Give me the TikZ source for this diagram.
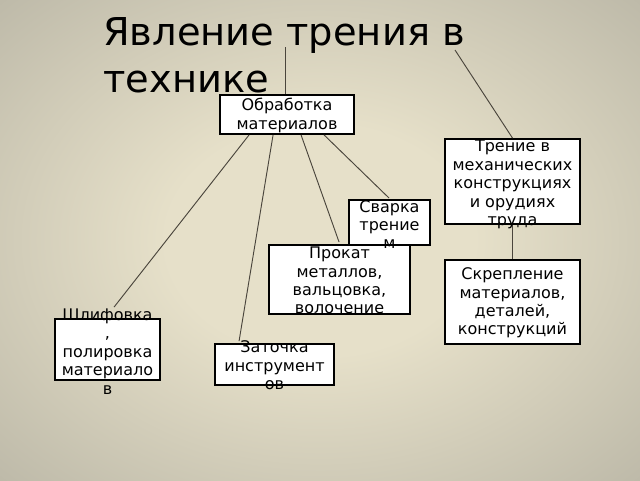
\documentclass[tikz,border=0pt]{standalone}
\usepackage{fontspec}
\setmainfont{DejaVu Sans}
\usetikzlibrary{calc}
\definecolor{bginner}{HTML}{E6E0C9}
\definecolor{bgouter}{HTML}{97958A}
\definecolor{linkcol}{HTML}{4A453C}
\pgfdeclareradialshading{bgshade}{\pgfpoint{0bp}{0bp}}{color(0bp)=(bginner); color(12bp)=(bginner); color(58bp)=(bgouter); color(72bp)=(bgouter)}
\tikzset{
  box/.style={draw=black, line width=1.4pt, fill=white, inner sep=0pt},
  boxtext/.style={font=\fontsize{12}{13.8}\selectfont, align=center, inner sep=0pt, text=black},
  link/.style={draw=linkcol, line width=0.7pt},
  titletext/.style={font=\fontsize{28.8}{35.2}\selectfont, align=left, inner sep=0pt, anchor=base west}
}
\begin{document}
\begin{tikzpicture}[x=0.75pt,y=-0.75pt]
\useasboundingbox (0,0) rectangle (640,480);
\shade[shading=bgshade] (0,0) rectangle (640,480);

\node[titletext] (title) at (103,92) {Явление трения в\\технике};

% boxes
\node[box, minimum width={134*0.75pt}, minimum height={39*0.75pt}] (b1) at (287,114.5) {};
\node[box, minimum width={135*0.75pt}, minimum height={85*0.75pt}] (b2) at (512.5,181.5) {};
\node[box, minimum width={81*0.75pt}, minimum height={45*0.75pt}] (b3) at (389.5,222.5) {};
\node[box, minimum width={141*0.75pt}, minimum height={69*0.75pt}] (b4) at (339.5,279.5) {};
\node[box, minimum width={135*0.75pt}, minimum height={84*0.75pt}] (b5) at (512.5,302) {};
\node[box, minimum width={105*0.75pt}, minimum height={61*0.75pt}] (b6) at (107.5,349.5) {};
\node[box, minimum width={119*0.75pt}, minimum height={41*0.75pt}] (b7) at (274.5,364.5) {};

% connectors
\coordinate (tA) at (285,47);
\coordinate (tB) at (455,50);
\draw[link] (tA) -- (tA |- b1.north);
\draw[link] (tB) -- (b2.north);
\draw[link] (b2.south) -- (b5.north);
\draw[link] ($(b1.south west)+(30,0)$) -- ($(b6.north west)+(60,-11)$);
\draw[link] ($(b1.south west)+(54,0)$) -- ($(b7.north west)+(25,-2)$);
\draw[link] ($(b1.south west)+(82,0)$) -- ($(b4.north west)+(71,-2)$);
\draw[link] ($(b1.south west)+(105,0)$) -- ($(b3.north west)+(41,-1)$);

% texts
\node[boxtext] (x1) at ($(b1.center)+(0,1)$) {Обработка\\материалов};
\node[boxtext] (x2) at ($(b2.center)+(0,3)$) {Трение в\\механических\\конструкциях\\и орудиях\\труда};
\node[boxtext] (x3) at ($(b3.center)+(0,2)$) {Сварка\\трение\\м};
\node[boxtext] (x4) at ($(b4.center)+(0,1)$) {Прокат\\металлов,\\вальцовка,\\волочение};
\node[boxtext] (x5) at ($(b5.center)+(0,1)$) {Скрепление\\материалов,\\деталей,\\конструкций};
\node[boxtext] (x6) at ($(b6.center)+(0,2)$) {Шлифовка\\,\\полировка\\материало\\в};
\node[boxtext] (x7) at ($(b7.center)+(0,1)$) {Заточка\\инструмент\\ов};
\end{tikzpicture}
\end{document}
